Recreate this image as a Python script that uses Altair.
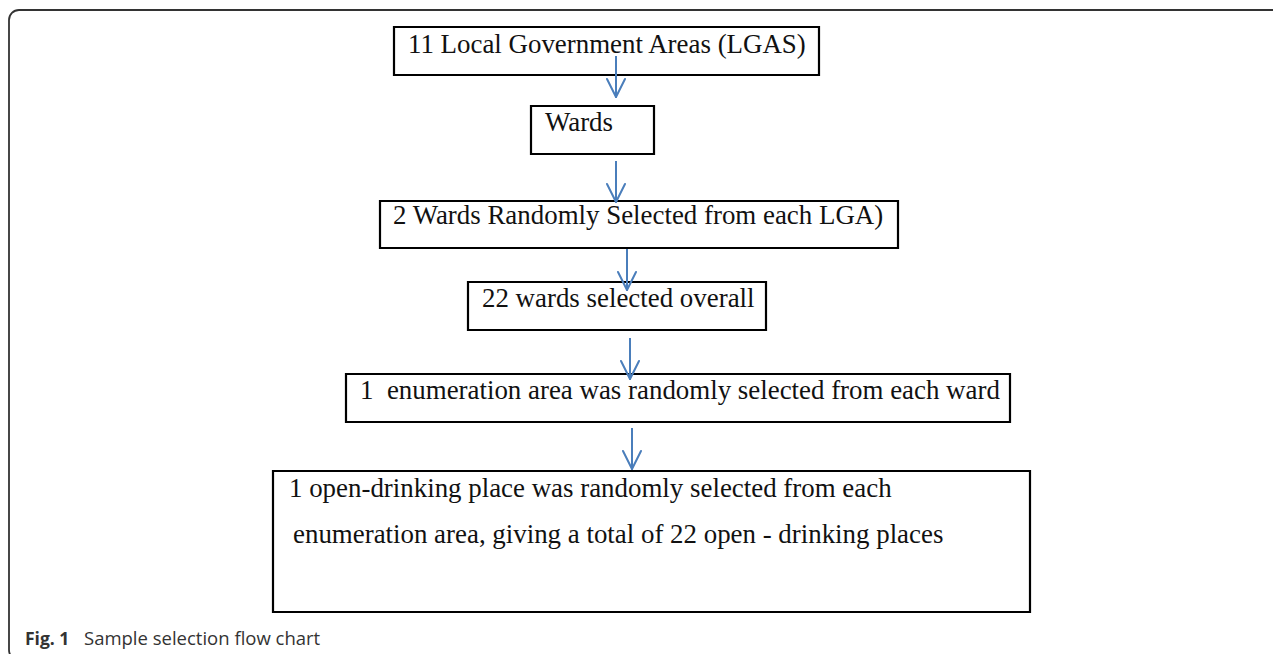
import altair as alt
import pandas as pd

# ---- flow-chart content ----
box_ids = ["b1", "b2", "b3", "b4", "b5", "b6"]
box_left = [394, 531, 380, 468, 346, 273]
box_right = [819, 654, 898, 766, 1010, 1030]
box_top = [27, 106, 201, 282, 374, 471]
box_bottom = [75, 154, 248, 330, 422, 612]

text_lines = [
    "11 Local Government Areas (LGAS)",
    "Wards",
    "2 Wards Randomly Selected from each LGA)",
    "22 wards selected overall",
    "1\u00a0 enumeration area was randomly selected from each ward",
    "1 open-drinking place was randomly selected from each",
    "enumeration area, giving a total of 22 open - drinking places",
]
text_x = [408, 545, 393, 482, 360, 289, 293]
text_baseline = [53, 131, 224, 307, 399, 497, 543]

arrow_x = [616, 616, 627, 630, 632]
arrow_start = [56, 161, 249, 338, 428]
arrow_end = [97, 202, 290, 379, 469]

caption_bold = "Fig. 1"
caption_text = "Sample selection flow chart"
caption_x = [25, 84]
caption_y = 645

frame = {"x": [9], "x2": [1300], "y": [10], "y2": [660]}

W, H = 1265, 646
xs = alt.Scale(domain=[8, 8 + W], nice=False, zero=False)
ys = alt.Scale(domain=[8 + H, 8], nice=False, zero=False)

boxes = pd.DataFrame({"id": box_ids, "x": box_left, "x2": box_right,
                      "y": box_top, "y2": box_bottom})
texts = pd.DataFrame({"t": text_lines, "x": text_x, "y": text_baseline})
arrows = pd.DataFrame({"x": arrow_x, "y": arrow_start, "y2": arrow_end})

HW, HL = 9, 18
heads = pd.DataFrame(
    [{"x": ax - HW, "y": ae - HL, "x2": ax, "y2": ae} for ax, ae in zip(arrow_x, arrow_end)]
    + [{"x": ax + HW, "y": ae - HL, "x2": ax, "y2": ae} for ax, ae in zip(arrow_x, arrow_end)]
)
captions = pd.DataFrame({"t": [caption_bold, caption_text], "x": caption_x,
                         "y": [caption_y, caption_y], "w": ["bold", "normal"]})

frame_layer = alt.Chart(pd.DataFrame(frame)).mark_rect(
    fillOpacity=0, stroke="#333333", strokeWidth=1.8, cornerRadius=10
).encode(
    x=alt.X("x:Q", scale=xs, axis=None), x2="x2:Q",
    y=alt.Y("y:Q", scale=ys, axis=None), y2="y2:Q",
)

box_layer = alt.Chart(boxes).mark_rect(
    fill="white", stroke="black", strokeWidth=2.2
).encode(
    x=alt.X("x:Q", scale=xs, axis=None), x2="x2:Q",
    y=alt.Y("y:Q", scale=ys, axis=None), y2="y2:Q",
)

text_layer = alt.Chart(texts).mark_text(
    font="Liberation Serif", fontSize=26.9, align="left",
    baseline="alphabetic", color="#111111"
).encode(
    x=alt.X("x:Q", scale=xs, axis=None),
    y=alt.Y("y:Q", scale=ys, axis=None),
    text="t:N",
)

arrow_layer = alt.Chart(arrows).mark_rule(
    color="#4a7ebb", strokeWidth=2
).encode(
    x=alt.X("x:Q", scale=xs, axis=None),
    y=alt.Y("y:Q", scale=ys, axis=None), y2="y2:Q",
)

head_layer = alt.Chart(heads).mark_rule(
    color="#4a7ebb", strokeWidth=2, strokeCap="round"
).encode(
    x=alt.X("x:Q", scale=xs, axis=None), x2="x2:Q",
    y=alt.Y("y:Q", scale=ys, axis=None), y2="y2:Q",
)

cap_bold_layer = alt.Chart(captions[captions.w == "bold"]).mark_text(
    font="Open Sans", fontSize=17.5, fontWeight="bold", align="left",
    baseline="alphabetic", color="#333333"
).encode(
    x=alt.X("x:Q", scale=xs, axis=None),
    y=alt.Y("y:Q", scale=ys, axis=None),
    text="t:N",
)
cap_layer = alt.Chart(captions[captions.w == "normal"]).mark_text(
    font="Open Sans", fontSize=18.5, align="left",
    baseline="alphabetic", color="#333333"
).encode(
    x=alt.X("x:Q", scale=xs, axis=None),
    y=alt.Y("y:Q", scale=ys, axis=None),
    text="t:N",
)

chart = alt.layer(
    frame_layer, box_layer, text_layer, arrow_layer, head_layer,
    cap_bold_layer, cap_layer
).properties(
    width=W, height=H, padding=0, autosize=alt.AutoSizeParams(type="none"),
    background="white"
).configure_view(strokeWidth=0)

chart.save("out.html", embed_options={"renderer": "svg", "actions": False})
